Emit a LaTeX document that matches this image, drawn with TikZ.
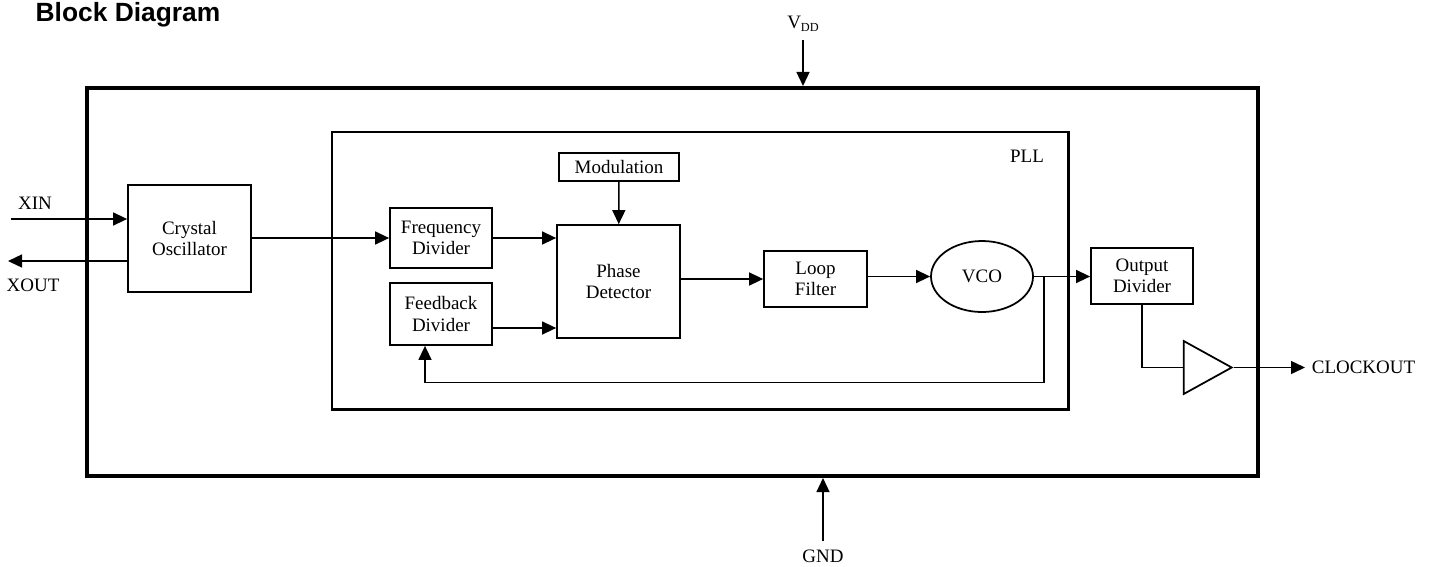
\documentclass[tikz,border=0pt]{standalone}
\usepackage{fontspec}
\setmainfont{Liberation Serif}
\newfontfamily\headfont{Liberation Sans}
\usetikzlibrary{positioning,calc,arrows.meta,shapes.geometric}

\begin{document}
\begin{tikzpicture}[
    x=0.2mm, y=-0.2mm,
    >={Triangle[length=2.8mm,width=2.6mm]}, line width=0.8pt,
    font=\fontsize{10.8}{12.2}\selectfont,
    blk/.style={draw,line width=1pt,align=center,inner sep=1pt},
    lbl/.style={inner sep=1pt},
  ]
  \useasboundingbox (0,0) rectangle (1429,566);
  \node[anchor=base west,inner sep=0,font=\headfont\bfseries\fontsize{15}{17}\selectfont] (title) at (35,21) {Block Diagram};
  \node[draw,line width=2.3pt,minimum width=234.2mm,minimum height=77.6mm] (chip) at (672.5,282) {};
  \node[draw,line width=1.7pt,minimum width=147.2mm,minimum height=55.4mm] (pll) at (700,270.5) {};
  \node[lbl] (plllbl) at (1027,156) {PLL};
  \node[blk,minimum width=24.6mm,minimum height=21.4mm] (xo) at (189.5,238.5) {Crystal\\Oscillator};
  \node[blk,minimum width=20.4mm,minimum height=12mm] (fd) at (441,238) {Frequency\\Divider};
  \node[blk,minimum width=20.4mm,minimum height=12.4mm] (fb) at (441,314) {Feedback\\Divider};
  \node[blk,minimum width=24.6mm,minimum height=22.6mm] (pd) at (618.5,281.5) {Phase\\Detector};
  \node[blk,minimum width=24mm,minimum height=5.6mm] (mod) at (619,167) {Modulation};
  \node[blk,minimum width=20.6mm,minimum height=11.2mm] (lf) at (815.5,279) {Loop\\Filter};
  \node[blk,ellipse,minimum width=20.4mm,minimum height=14.2mm] (vco) at (982,276.5) {VCO};
  \node[blk,minimum width=20.4mm,minimum height=11.2mm] (od) at (1142,276) {Output\\Divider};
  \node[draw,line width=1pt,isosceles triangle,isosceles triangle stretches,minimum width=10.6mm,minimum height=9.6mm,inner sep=0,anchor=apex] (buf) at (1234,367.5) {};
  \node[lbl,inner sep=3.5pt,anchor=west] (clk) at (1305,367.5) {CLOCKOUT};
  \node[lbl] (xinlbl) at (35,203) {XIN};
  \node[lbl] (xoutlbl) at (33,285) {XOUT};
  \node[lbl,inner sep=0] (vdd) at (803,24) {V\raisebox{-0.35ex}{\scriptsize DD}};
  \node[lbl] (gnd) at (823,556) {GND};
  \coordinate (xinend) at (11,219);
  \coordinate (xoutend) at (8,261);
  \coordinate (tap) at ($(vco.east)+(10,0)$);
  \coordinate (fbin) at ($(fb.south)+(-16,0)$);
  \draw[->] (xinend) -- (xinend -| xo.west);
  \draw[->] (xoutend -| xo.west) -- (xoutend);
  \draw[->] (xo.east |- fd) -- (fd.west);
  \draw[->] (fd.east) -- (fd.east -| pd.west);
  \draw[->] ($(fb.east)+(0,14)$) -- ($(fb.east -| pd.west)+(0,14)$);
  \draw[->] (mod) -- (pd);
  \draw[->] (pd.east |- lf) -- (lf.west);
  \draw[->] (lf.east |- vco) -- (vco.west);
  \draw[->] (vco.east) -- (vco.east -| od.west);
  \draw[->] (tap) -- ++(0,106) -| (fbin);
  \draw (od.south) |- (buf.west);
  \draw[->] (buf.apex) -- (clk.west);
  \draw[->] ([yshift=-1.5mm]vdd.south) -- (chip.north -| vdd);
  \draw[->] ([yshift=1.2mm]gnd.north) -- (chip.south -| gnd);
\end{tikzpicture}
\end{document}
